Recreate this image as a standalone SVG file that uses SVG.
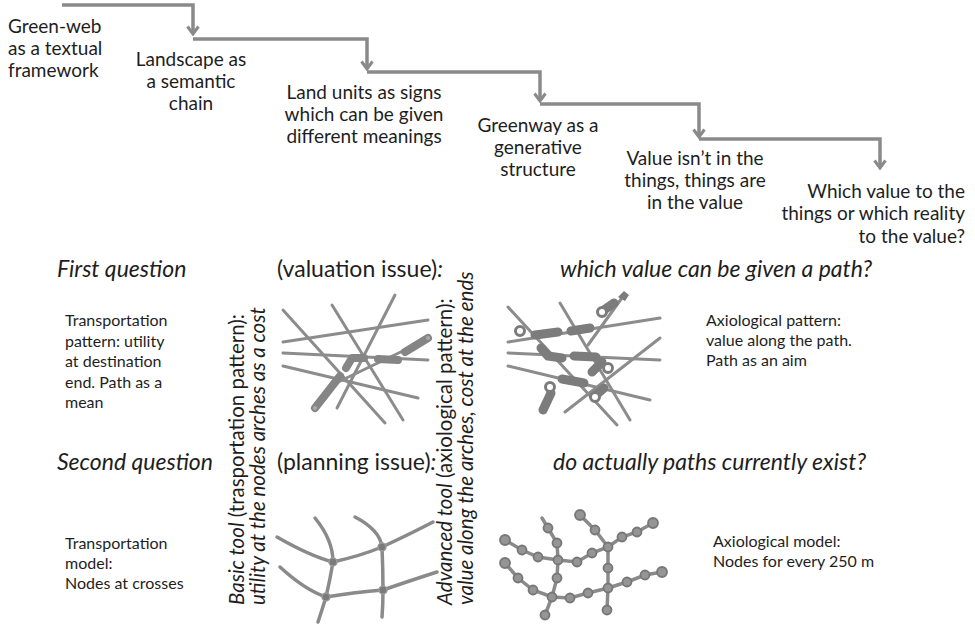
<svg xmlns="http://www.w3.org/2000/svg" width="975" height="634" viewBox="0 0 975 634">
<defs>
<style>
text{font-family:Lato,"Liberation Sans",sans-serif;fill:#1e1e1e}
.t{font-size:19px}
.s{font-size:16px}
.q{font-size:23px}
.v{font-size:20.5px}
.i{font-style:italic}
.mid{text-anchor:middle}
.end{text-anchor:end}
.step{fill:none;stroke:#8a8a8a;stroke-width:3.5}
.thin{fill:none;stroke:#8c8c8c;stroke-width:3;stroke-linecap:round}
.thick{fill:none;stroke:#858585;stroke-width:8;stroke-linecap:round;stroke-linejoin:round}
.cap{fill:none;stroke:#7c7c7c;stroke-width:9;stroke-linecap:round}
.ring{fill:#fff;stroke:#7c7c7c;stroke-width:3}
.net{fill:none;stroke:#8a8a8a;stroke-width:3.5;stroke-linecap:round}
.nd{fill:#7a7a7a;stroke:#9a9a9a;stroke-width:1.5}
.bead{fill:#959595;stroke:#777;stroke-width:1.8}
</style>
<marker id="ah" viewBox="0 0 14 14" refX="12" refY="7" markerWidth="14" markerHeight="14" orient="auto" markerUnits="userSpaceOnUse">
<path d="M4.5,1.5 L12,7 L4.5,12.5" fill="none" stroke="#8a8a8a" stroke-width="3"/>
</marker>
</defs>
<rect width="975" height="634" fill="#fff"/>

<g id="connectors">
<path class="step" d="M62,5 H193 V34" marker-end="url(#ah)"/>
<path class="step" d="M193,39 H367 V69" marker-end="url(#ah)"/>
<path class="step" d="M367,72 H540 V101" marker-end="url(#ah)"/>
<path class="step" d="M540,104 H699 V137" marker-end="url(#ah)"/>
<path class="step" d="M699,139 H880 V168" marker-end="url(#ah)"/>
</g>

<g id="step1"><text class="t" x="8" y="33">Green-web</text><text class="t" x="8" y="55">as a textual</text><text class="t" x="8" y="77">framework</text></g>
<g id="step2"><text class="t mid" x="191" y="66">Landscape as</text><text class="t mid" x="191" y="88">a semantic</text><text class="t mid" x="191" y="110">chain</text></g>
<g id="step3"><text class="t mid" x="364" y="99">Land units as signs</text><text class="t mid" x="364" y="121">which can be given</text><text class="t mid" x="364" y="143">different meanings</text></g>
<g id="step4"><text class="t mid" x="538" y="132">Greenway as a</text><text class="t mid" x="538" y="154">generative</text><text class="t mid" x="538" y="176">structure</text></g>
<g id="step5"><text class="t mid" x="695" y="165">Value isn’t in the</text><text class="t mid" x="695" y="187">things, things are</text><text class="t mid" x="695" y="209">in the value</text></g>
<g id="step6"><text class="t end" x="965" y="198">Which value to the</text><text class="t end" x="965" y="220">things or which reality</text><text class="t end" x="965" y="243">to the value?</text></g>

<g id="q1">
<text class="q i" x="57" y="277">First question</text>
<text class="q" x="277" y="277">(valuation issue)<tspan class="i">:</tspan></text>
<text class="q i" x="560" y="277">which value can be given a path?</text>
</g>
<g id="q2">
<text class="q i" x="57" y="470">Second question</text>
<text class="q" x="277" y="470">(planning issue)<tspan class="i">:</tspan></text>
<text class="q i" x="553" y="470">do actually paths currently exist?</text>
</g>

<g id="desc-transport-pattern">
<text class="s" x="65" y="326">Transportation</text><text class="s" x="65" y="347">pattern: utility</text><text class="s" x="65" y="367">at destination</text><text class="s" x="65" y="388">end. Path as a</text><text class="s" x="65" y="408">mean</text>
</g>
<g id="desc-axio-pattern">
<text class="s" x="706" y="326">Axiological pattern:</text><text class="s" x="706" y="346">value along the path.</text><text class="s" x="706" y="366">Path as an aim</text>
</g>
<g id="desc-transport-model">
<text class="s" x="65" y="549">Transportation</text><text class="s" x="65" y="569">model:</text><text class="s" x="65" y="589">Nodes at crosses</text>
</g>
<g id="desc-axio-model">
<text class="s" x="713" y="547">Axiological model:</text><text class="s" x="713" y="567">Nodes for every 250 m</text>
</g>

<g id="basic-tool">
<text class="v" transform="translate(244,605) rotate(-90)"><tspan class="i">Basic tool</tspan> (trasportation pattern):</text>
<text class="v i" transform="translate(265,605) rotate(-90)">utility at the nodes arches as a cost</text>
</g>
<g id="advanced-tool">
<text class="v" transform="translate(452,605) rotate(-90)"><tspan class="i">Advanced tool</tspan> (axiological pattern):</text>
<text class="v i" transform="translate(473,605) rotate(-90)">value along the arches, cost at the ends</text>
</g>

<g id="transport-pattern">
<line class="thin" x1="283" y1="310" x2="385" y2="423"/>
<line class="thin" x1="332" y1="305" x2="403" y2="420"/>
<line class="thin" x1="395" y1="295" x2="337" y2="408"/>
<line class="thin" x1="283" y1="342" x2="428" y2="320"/>
<line class="thin" x1="283" y1="353" x2="428" y2="360"/>
<line class="thin" x1="283" y1="366" x2="418" y2="398"/>
<line class="thin" x1="336" y1="383" x2="430" y2="338"/>
<path class="thick" d="M315,408 L340,376"/>
<path class="thick" d="M346,368 L352,358 L364,358"/>
<path class="thick" d="M378,359 L398,360"/>
<path class="thick" d="M405,352 L428,338"/>
<circle cx="315" cy="408" r="2" fill="#aaa"/>
<circle cx="428" cy="338" r="2" fill="#aaa"/>
</g>

<g id="axio-pattern">
<line class="thin" x1="508" y1="307" x2="617" y2="425"/>
<line class="thin" x1="560" y1="303" x2="630" y2="420"/>
<line class="thin" x1="508" y1="342" x2="660" y2="318"/>
<line class="thin" x1="508" y1="353" x2="660" y2="360"/>
<line class="thin" x1="508" y1="366" x2="650" y2="400"/>
<line class="thin" x1="565" y1="412" x2="660" y2="338"/>
<line class="thin" x1="624" y1="295" x2="588" y2="345"/>
<path class="cap" d="M535,335 L558,332"/>
<path class="cap" d="M571,331 L590,328"/>
<path class="cap" d="M541,348 L548,356 L562,358"/>
<path class="cap" d="M574,356 L596,357"/>
<path class="cap" d="M562,379 L584,383"/>
<path class="cap" d="M592,372 L602,362"/>
<path class="cap" d="M604,310 L614,303"/>
<path class="cap" d="M543,410 L551,393"/>
<path class="cap" d="M596,395 L604,388"/>
<path d="M618,297 l6,-6 l5,4 l-4,6 z" fill="#7c7c7c"/>
<circle class="ring" cx="520" cy="331" r="4.5"/>
<circle class="ring" cx="602" cy="312" r="4.5"/>
<circle class="ring" cx="550" cy="387" r="4.5"/>
<circle class="ring" cx="595" cy="397" r="4.5"/>
<circle class="ring" cx="608" cy="368" r="4.5"/>
</g>

<g id="transport-model">
<path class="net" d="M277,537 Q310,556 333,562 Q360,556 382,547 Q410,534 433,522"/>
<path class="net" d="M280,567 Q305,590 326,597 Q356,592 383,590 Q412,580 437,572"/>
<path class="net" d="M315,518 Q333,540 333,562 Q330,580 326,597 Q322,610 318,622"/>
<path class="net" d="M355,517 Q380,530 382,547 Q383,570 383,590 Q383,605 382,617"/>
<circle class="nd" cx="333" cy="562" r="4"/>
<circle class="nd" cx="382" cy="547" r="4"/>
<circle class="nd" cx="326" cy="597" r="4"/>
<circle class="nd" cx="383" cy="590" r="4"/>
</g>

<g id="axio-model">
<path class="net" d="M505,540 L522,550 L538,557 L558,560 L577,562 L592,553 L608,547 L622,537 L637,532 L653,523"/>
<path class="net" d="M542,518 L548,528 L557,543 L558,560 L557,578 L552,597 L545,615"/>
<path class="net" d="M580,515 L595,530 L608,547 L608,568 L608,588 L607,610"/>
<path class="net" d="M505,563 L518,578 L533,590 L552,597 L570,598 L588,593 L608,588 L627,582 L645,575 L662,572"/>
<circle class="bead" cx="505" cy="540" r="5"/><circle class="bead" cx="522" cy="550" r="4.5"/><circle class="bead" cx="538" cy="557" r="4.5"/>
<circle class="bead" cx="558" cy="560" r="4.5"/><circle class="bead" cx="577" cy="562" r="4.5"/><circle class="bead" cx="592" cy="553" r="4.5"/>
<circle class="bead" cx="608" cy="547" r="4.5"/><circle class="bead" cx="622" cy="537" r="4.5"/><circle class="bead" cx="637" cy="532" r="4.5"/><circle class="bead" cx="653" cy="523" r="5"/>
<circle class="bead" cx="557" cy="543" r="4.5"/><circle class="bead" cx="548" cy="528" r="4.5"/><circle class="bead" cx="557" cy="578" r="4.5"/><circle class="bead" cx="545" cy="615" r="4.5"/>
<circle class="bead" cx="580" cy="515" r="5"/><circle class="bead" cx="595" cy="530" r="4.5"/><circle class="bead" cx="608" cy="568" r="4.5"/><circle class="bead" cx="607" cy="610" r="4.5"/>
<circle class="bead" cx="505" cy="563" r="5"/><circle class="bead" cx="518" cy="578" r="4.5"/><circle class="bead" cx="533" cy="590" r="4.5"/>
<circle class="bead" cx="552" cy="597" r="4.5"/><circle class="bead" cx="570" cy="598" r="4.5"/><circle class="bead" cx="588" cy="593" r="4.5"/>
<circle class="bead" cx="608" cy="588" r="4.5"/><circle class="bead" cx="627" cy="582" r="4.5"/><circle class="bead" cx="645" cy="575" r="4.5"/><circle class="bead" cx="662" cy="572" r="5"/>
</g>
</svg>
